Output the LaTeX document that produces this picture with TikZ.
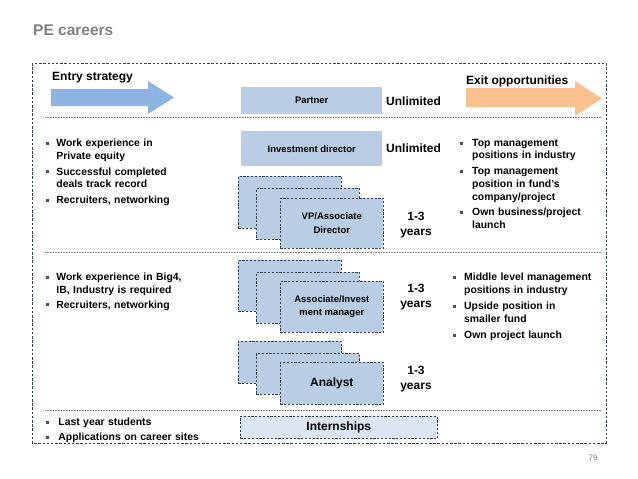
\documentclass[tikz,border=0pt]{standalone}
\usepackage{fontspec}
\setmainfont{Liberation Sans}
\definecolor{boxblue}{HTML}{B9CDE5}
\definecolor{lightblue}{HTML}{DCE6F2}
\definecolor{arrowblue}{HTML}{8EB4E3}
\definecolor{arroworange}{HTML}{FAC090}
\definecolor{edgenavy}{HTML}{34405A}
\definecolor{titlegray}{HTML}{7F7F7F}
\definecolor{bulgray}{HTML}{505050}
\newcommand\bul[1][10.5pt]{\makebox[#1][l]{\textcolor{bulgray}{\rule[1.8pt]{3pt}{3pt}}}}
\begin{document}
\begin{tikzpicture}[x=1pt,y=-1pt,
  lst/.style={anchor=north west, inner sep=0pt, text width=#1, align=left,
    font=\fontsize{10.4}{12.6}\selectfont\bfseries},
  solidbox/.style={fill=boxblue, draw=none, inner sep=0pt, anchor=north west,
    font=\fontsize{9.5}{11.5}\selectfont\bfseries},
  stackbox/.style={fill=boxblue, draw=edgenavy, line width=0.6pt,
    dash pattern=on 2.2pt off 1.6pt, inner sep=0pt, anchor=north west,
    minimum width=103pt, minimum height=52pt, align=center},
  bigtxt/.style={font=\fontsize{12}{14.5}\selectfont\bfseries, inner sep=0pt},
  sep/.style={draw=gray, line width=0.5pt, dash pattern=on 0.8pt off 0.8pt}
]
\useasboundingbox (0,0) rectangle (638,479);

% title
\node[anchor=west, inner sep=0pt, text=titlegray, font=\fontsize{15.5}{18}\selectfont\bfseries] (title) at (33,30) {PE careers};

% outer frame
\draw[edgenavy, line width=0.6pt, dash pattern=on 2.5pt off 1.7pt] (32,63) rectangle (606,443);

% separators
\coordinate (s1a) at (45,117); \coordinate (s1b) at (601,117);
\coordinate (s2a) at (45,252); \coordinate (s2b) at (601,252);
\coordinate (s3a) at (45,410); \coordinate (s3b) at (601,410);
\draw[sep] (s1a) -- (s1b);
\draw[sep] (s2a) -- (s2b);
\draw[sep] (s3a) -- (s3b);

% arrows
\fill[arrowblue] (51,89) -- (148,89) -- (148,81) -- (174,97.5) -- (148,114) -- (148,106) -- (51,106) -- cycle;
\fill[arroworange] (466,88) -- (575,88) -- (575,81) -- (602,98.5) -- (575,116) -- (575,107) -- (466,107) -- cycle;
\node[bigtxt, anchor=west] (entry) at (52,78) {Entry strategy};
\node[bigtxt, anchor=west] (exit) at (466,81) {Exit opportunities};

% partner / ID
\node[solidbox, minimum width=141pt, minimum height=27pt] (partner) at (241,87) {Partner};
\node[bigtxt, anchor=west] (u1) at (386,101) {Unlimited};
\node[solidbox, minimum width=141pt, minimum height=35pt] (id) at (241,131) {Investment director};
\node[bigtxt, anchor=west] (u2) at (386,148) {Unlimited};

% VP stack
\node[stackbox] (vp1) at (238,176) {};
\node[stackbox, minimum height=51pt] (vp2) at (256,188) {};
\node[stackbox, minimum height=50pt, font=\fontsize{9.5}{13.5}\selectfont\bfseries] (vp3) at (280,198) {VP/Associate\\Director};
\node[bigtxt, align=center, font=\fontsize{12}{15}\selectfont\bfseries] (y1) at (416,225.5) {1-3\\years};

% Associate stack
\node[stackbox, minimum height=51pt] (as1) at (238,260) {};
\node[stackbox, minimum height=51pt] (as2) at (256,272) {};
\node[stackbox, minimum height=51pt, font=\fontsize{9.5}{12.5}\selectfont\bfseries] (as3) at (280,281) {Associate/Invest\\ment manager};
\node[bigtxt, align=center, font=\fontsize{12}{15}\selectfont\bfseries] (y2) at (416,297.5) {1-3\\years};

% Analyst stack
\node[stackbox, minimum height=42pt] (an1) at (238,341) {};
\node[stackbox, minimum height=41pt] (an2) at (256,353) {};
\node[stackbox, minimum height=42pt, font=\fontsize{12}{14}\selectfont\bfseries] (an3) at (280,362) {Analyst};
\node[bigtxt, align=center, font=\fontsize{12}{14.5}\selectfont\bfseries] (y3) at (416,379) {1-3\\years};

% Internships
\node[anchor=north west, fill=lightblue, draw=edgenavy, line width=0.6pt,
  dash pattern=on 2.2pt off 1.6pt, minimum width=197pt, minimum height=22pt,
  inner sep=0pt, font=\fontsize{12}{14}\selectfont\bfseries] (intern) at (240,416) {Internships};

% left lists
\node[lst=180pt] (l1) at (45.7,139) {\bul Work experience in\\\hspace*{10.5pt}Private equity\\[3.3pt]\bul Successful completed\\\hspace*{10.5pt}deals track record\\[3.3pt]\bul Recruiters, networking};
\node[lst=190pt] (l2) at (45.7,273) {\bul Work experience in Big4,\\\hspace*{10.5pt}IB, Industry is required\\[2.3pt]\bul Recruiters, networking};
\node[lst=190pt] (l3) at (45.7,418) {\bul[12.5pt]Last year students\\[2.3pt]\bul[12.5pt]Applications on career sites};

% right lists
\node[lst=140pt] (r1) at (460,139) {\bul[12pt]Top management\\\hspace*{12pt}positions in industry\\[3.3pt]\bul[12pt]Top management\\\hspace*{12pt}position in fund's\\\hspace*{12pt}company/project\\[2.8pt]\bul[12pt]Own business/project\\\hspace*{12pt}launch};
\node[lst=150pt] (r2) at (452.3,273) {\bul[11.7pt]Middle level management\\\hspace*{11.7pt}positions in industry\\[3.8pt]\bul[11.7pt]Upside position in\\\hspace*{11.7pt}smaller fund\\[3.8pt]\bul[11.7pt]Own project launch};

% page number
\node[anchor=center, inner sep=0pt, text=titlegray, font=\fontsize{8}{10}\selectfont] (pg) at (593,458) {79};
\end{tikzpicture}
\end{document}
